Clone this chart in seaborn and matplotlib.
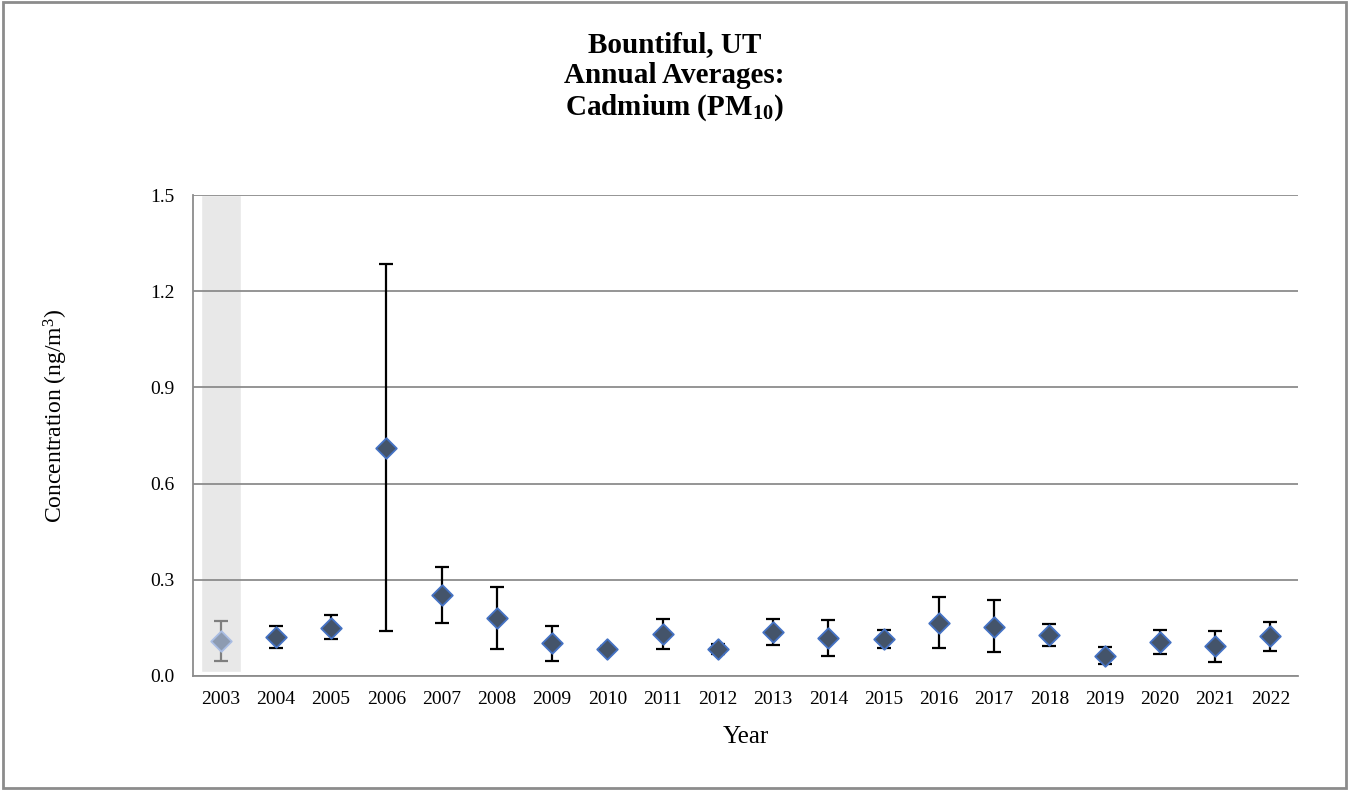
import matplotlib
matplotlib.use("Agg")
import matplotlib.pyplot as plt
import seaborn as sns
import pandas as pd
from matplotlib.patches import Rectangle

# Annual averages (ng/m3) with error bar ends
years = [str(y) for y in range(2003, 2023)]
means = [0.108, 0.123, 0.151, 0.712, 0.252, 0.182, 0.103, 0.083, 0.131, 0.083,
         0.138, 0.117, 0.115, 0.166, 0.154, 0.128, 0.063, 0.107, 0.093, 0.124]
upper = [0.171, 0.157, 0.189, 1.285, 0.341, 0.279, 0.156, 0.092, 0.177, 0.100,
         0.179, 0.175, 0.143, 0.247, 0.236, 0.163, 0.089, 0.142, 0.141, 0.168]
lower = [0.047, 0.088, 0.114, 0.141, 0.165, 0.084, 0.047, 0.074, 0.084, 0.070,
         0.097, 0.061, 0.087, 0.086, 0.074, 0.093, 0.037, 0.068, 0.044, 0.079]
shaded_years = ["2003"]

df = pd.DataFrame({"Year": years, "Mean": means, "Upper": upper, "Lower": lower})
df["Shaded"] = df["Year"].isin(shaded_years)

sns.set_style("white")
plt.rcParams["font.family"] = ["Liberation Serif", "DejaVu Serif"]
plt.rcParams["mathtext.fontset"] = "custom"
plt.rcParams["mathtext.rm"] = "Liberation Serif"
plt.rcParams["mathtext.it"] = "Liberation Serif:italic"
plt.rcParams["mathtext.bf"] = "Liberation Serif:bold"
plt.rcParams["text.color"] = "black"
plt.rcParams["axes.labelcolor"] = "black"

fig = plt.figure(figsize=(13.49, 7.9), dpi=100)
ax = fig.add_axes([193 / 1349, 1 - 676 / 790, (1298 - 193) / 1349, (676 - 195) / 790])

x = list(range(len(years)))

# grey band behind the first year
for i, yr in enumerate(years):
    if yr in shaded_years:
        ax.bar(i, 1.5 - 0.012, bottom=0.012, width=0.72, color="#e8e8e8", zorder=0)

# error bars
for i, row in df.iterrows():
    col = "#7f7f7f" if row["Shaded"] else "black"
    ax.errorbar(i, row["Mean"],
                yerr=[[row["Mean"] - row["Lower"]], [row["Upper"] - row["Mean"]]],
                fmt="none", ecolor=col, elinewidth=1.6, capsize=5, capthick=1.6, zorder=3)

# markers
sns.scatterplot(data=df[~df["Shaded"]], x=[x[i] for i in df.index[~df["Shaded"]]], y="Mean",
                marker="D", s=110, color="#44546a", edgecolor="#4472c4", linewidth=1.3,
                ax=ax, zorder=4, legend=False)
sns.scatterplot(data=df[df["Shaded"]], x=[x[i] for i in df.index[df["Shaded"]]], y="Mean",
                marker="D", s=110, color="#8d9bb1", edgecolor="#a9bde3", linewidth=1.3,
                ax=ax, zorder=4, legend=False)

ax.set_xlim(-0.5, len(years) - 0.5)
ax.set_ylim(0, 1.5)
ax.set_yticks([0, 0.3, 0.6, 0.9, 1.2, 1.5])
ax.set_yticklabels(["0.0", "0.3", "0.6", "0.9", "1.2", "1.5"], fontsize=14)
ax.set_xticks(x)
ax.set_xticklabels(years, fontsize=14)
ax.set_xticks([i - 0.5 for i in range(len(years) + 1)], minor=True)
ax.tick_params(axis="x", which="major", length=0, pad=11, labelcolor="black")
ax.tick_params(axis="x", which="minor", length=6, width=1.3, color="#8c8c8c", direction="out")
ax.tick_params(axis="y", length=6, width=1.3, color="#8c8c8c", direction="out", pad=7,
               labelcolor="black")
ax.yaxis.grid(True, color="#8c8c8c", linewidth=1.3)
ax.set_axisbelow(True)
for side in ["top", "right"]:
    ax.spines[side].set_visible(False)
for side in ["left", "bottom"]:
    ax.spines[side].set_color("#8c8c8c")
    ax.spines[side].set_linewidth(1.3)

ax.set_xlabel("Year", fontsize=18, labelpad=13)
ax.set_ylabel("Concentration (ng/m$^3$)", fontsize=17)
ax.yaxis.set_label_coords(-0.111, 0.54)

fig.text(0.5, 1 - 31 / 790, "Bountiful, UT\nAnnual Averages:\nCadmium (PM$_{\\mathbf{10}}$)",
         ha="center", va="top", fontsize=21, fontweight="bold", linespacing=1.17)

fig.patches.append(Rectangle((0.002, 0.003), 0.996, 0.994, transform=fig.transFigure,
                             fill=False, edgecolor="#8c8c8c", linewidth=2))

fig.savefig("out.png", dpi=100)
